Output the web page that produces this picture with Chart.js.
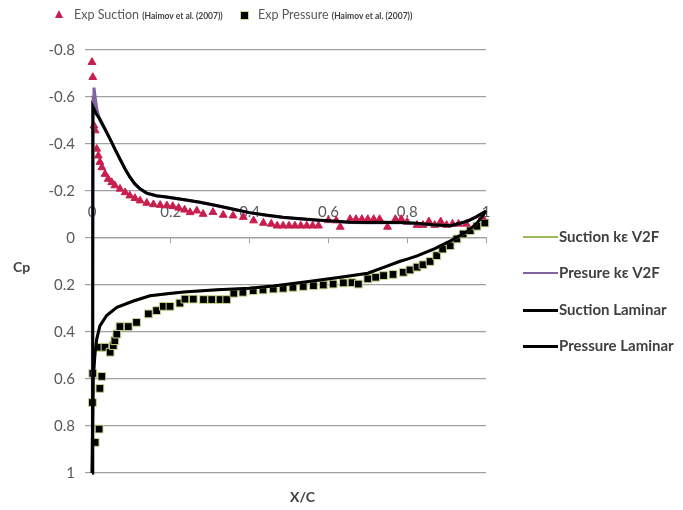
<!DOCTYPE html>
<html>
<head>
<meta charset="utf-8">
<script src="https://cdn.jsdelivr.net/npm/chart.js@4"></script>
<style>
  html, body { margin: 0; padding: 0; background: #fff; }
  #wrap { position: relative; width: 683px; height: 510px; font-family: Lato, "Open Sans", sans-serif; }
  #c { position: absolute; left: 0; top: 0; }
  .lbl { position: absolute; white-space: nowrap; }
  .top { font-size: 12.5px; color: #595959; top: 7px; }
  .small { font-size: 8.5px; font-weight: bold; color: #404040; }
  .rl { position: absolute; left: 523px; font-size: 15px; font-weight: bold; color: #404040; white-space: nowrap; line-height: 18px; }
  .rl span.ln { display: inline-block; width: 35px; height: 3px; vertical-align: middle; margin-right: 1px; position: relative; top: -1px; }
  .axt { position: absolute; font-size: 14px; font-weight: bold; color: #404040; }
</style>
</head>
<body>
<div id="wrap">
  <canvas id="c" width="683" height="510"></canvas>
  <div id="legendTop"></div>
  <div id="legendRight"></div>
  <div class="axt" style="left:13px; top:258px;">Cp</div>
  <div class="axt" style="left:290px; top:488px;">X/C</div>
</div>
<script>
// ---- data ----
const xTickValues = [0, 0.2, 0.4, 0.6, 0.8, 1];
const xTickLabels = ['0', '0.2', '0.4', '0.6', '0.8', '1'];
const yTickValues = [-0.8, -0.6, -0.4, -0.2, 0, 0.2, 0.4, 0.6, 0.8, 1];
const yTickLabels = ['-0.8', '-0.6', '-0.4', '-0.2', '0', '0.2', '0.4', '0.6', '0.8', '1'];

const expSuctionX = [0.0, 0.002, 0.005, 0.008, 0.012, 0.016, 0.02, 0.025, 0.033, 0.041, 0.05, 0.058, 0.071, 0.084, 0.096, 0.109, 0.122, 0.139, 0.156, 0.173, 0.19, 0.205, 0.22, 0.235, 0.249, 0.266, 0.282, 0.307, 0.333, 0.358, 0.384, 0.41, 0.435, 0.455, 0.47, 0.485, 0.5, 0.515, 0.53, 0.545, 0.56, 0.575, 0.6, 0.62, 0.63, 0.655, 0.67, 0.685, 0.7, 0.715, 0.73, 0.75, 0.77, 0.785, 0.8, 0.825, 0.84, 0.855, 0.87, 0.885, 0.9, 0.915, 0.93, 0.95, 0.99];
const expSuctionCp = [-0.748, -0.684, -0.478, -0.457, -0.379, -0.35, -0.323, -0.3, -0.272, -0.251, -0.237, -0.223, -0.209, -0.194, -0.18, -0.169, -0.159, -0.149, -0.143, -0.14, -0.138, -0.135, -0.128, -0.12, -0.109, -0.116, -0.102, -0.11, -0.098, -0.095, -0.089, -0.074, -0.064, -0.06, -0.052, -0.052, -0.052, -0.052, -0.052, -0.052, -0.052, -0.052, -0.075, -0.074, -0.047, -0.08, -0.08, -0.08, -0.08, -0.08, -0.08, -0.047, -0.08, -0.08, -0.068, -0.055, -0.055, -0.07, -0.055, -0.07, -0.055, -0.06, -0.06, -0.06, -0.09];

const expPressureX = [0.001, 0.008, 0.018, 0.02, 0.025, 0.002, 0.02, 0.033, 0.046, 0.054, 0.058, 0.063, 0.071, 0.092, 0.113, 0.143, 0.164, 0.181, 0.198, 0.223, 0.236, 0.257, 0.283, 0.304, 0.325, 0.342, 0.36, 0.383, 0.409, 0.434, 0.46, 0.485, 0.51, 0.536, 0.562, 0.587, 0.612, 0.638, 0.66, 0.676, 0.7, 0.72, 0.74, 0.764, 0.79, 0.807, 0.825, 0.84, 0.858, 0.875, 0.89, 0.909, 0.926, 0.942, 0.96, 0.977, 0.997];
const expPressureCp = [0.70, 0.87, 0.813, 0.64, 0.589, 0.576, 0.465, 0.465, 0.486, 0.458, 0.437, 0.409, 0.377, 0.377, 0.359, 0.323, 0.309, 0.291, 0.291, 0.277, 0.26, 0.26, 0.262, 0.262, 0.262, 0.262, 0.235, 0.231, 0.224, 0.221, 0.217, 0.214, 0.21, 0.206, 0.203, 0.2, 0.196, 0.191, 0.19, 0.196, 0.174, 0.167, 0.16, 0.155, 0.146, 0.136, 0.124, 0.114, 0.1, 0.075, 0.047, 0.033, 0.004, -0.017, -0.031, -0.05, -0.064];

const suctionV2FX = [0, 0.001, 0.003, 0.005, 0.008, 0.012, 0.02, 0.033, 0.046, 0.058, 0.071, 0.084, 0.096, 0.109, 0.122, 0.139, 0.164, 0.19, 0.232, 0.275, 0.316, 0.36, 0.4, 0.445, 0.485, 0.53, 0.57, 0.61, 0.655, 0.7, 0.74, 0.785, 0.825, 0.866, 0.91, 0.95, 0.975, 0.99, 1.0];
const suctionV2FCp = [1, 0.4, -0.6, -0.64, -0.6, -0.55, -0.5, -0.462, -0.42, -0.378, -0.335, -0.293, -0.259, -0.229, -0.208, -0.19, -0.179, -0.173, -0.163, -0.151, -0.137, -0.121, -0.107, -0.096, -0.087, -0.081, -0.076, -0.071, -0.066, -0.065, -0.066, -0.065, -0.062, -0.055, -0.051, -0.069, -0.089, -0.104, -0.114];

const pressureV2FX = [0, 0.003, 0.008, 0.012, 0.02, 0.037, 0.063, 0.105, 0.147, 0.19, 0.232, 0.317, 0.4, 0.46, 0.545, 0.63, 0.7, 0.74, 0.78, 0.8, 0.825, 0.87, 0.91, 0.95, 0.975, 0.99, 1.0];
const pressureV2FCp = [1, 0.6, 0.486, 0.431, 0.375, 0.331, 0.296, 0.269, 0.247, 0.238, 0.231, 0.221, 0.215, 0.205, 0.187, 0.168, 0.151, 0.126, 0.101, 0.091, 0.077, 0.046, 0.013, -0.024, -0.059, -0.089, -0.114];

const suctionLamX = [0, 0.002, 0.005, 0.01, 0.02, 0.033, 0.046, 0.058, 0.071, 0.084, 0.096, 0.109, 0.122, 0.139, 0.164, 0.19, 0.232, 0.275, 0.316, 0.36, 0.4, 0.445, 0.485, 0.53, 0.57, 0.61, 0.655, 0.7, 0.74, 0.785, 0.825, 0.866, 0.91, 0.95, 0.975, 0.99, 1.0];
const suctionLamCp = [1, -0.56, -0.55, -0.53, -0.506, -0.464, -0.421, -0.379, -0.336, -0.294, -0.26, -0.23, -0.209, -0.191, -0.18, -0.174, -0.164, -0.152, -0.138, -0.122, -0.108, -0.097, -0.088, -0.082, -0.077, -0.072, -0.067, -0.066, -0.067, -0.066, -0.063, -0.056, -0.052, -0.07, -0.09, -0.105, -0.115];

const pressureLamX = [0, 0.003, 0.008, 0.012, 0.02, 0.037, 0.063, 0.105, 0.147, 0.19, 0.232, 0.317, 0.4, 0.46, 0.545, 0.63, 0.7, 0.74, 0.78, 0.8, 0.825, 0.87, 0.91, 0.95, 0.975, 0.99, 1.0];
const pressureLamCp = [1, 0.6, 0.485, 0.43, 0.374, 0.33, 0.295, 0.268, 0.246, 0.237, 0.23, 0.22, 0.214, 0.204, 0.186, 0.167, 0.15, 0.125, 0.1, 0.09, 0.076, 0.045, 0.012, -0.025, -0.06, -0.09, -0.115];

const seriesNames = ['Exp Suction', 'Exp Pressure', 'Suction k\u03b5 V2F', 'Presure k\u03b5 V2F', 'Suction Laminar', 'Pressure Laminar'];
const sourceNote = '(Haimov et al. (2007))';
const colors = ['#c81e4e', '#000000', '#9bbb59', '#8064a2', '#000000', '#000000'];

function pts(xs, ys) { return xs.map((x, i) => ({ x: x, y: ys[i] })); }
function tickLabel(values, labels, v) {
  const k = values.findIndex(t => Math.abs(t - v) < 1e-6);
  return k >= 0 ? labels[k] : '';
}

// ---- legends (HTML text) ----
const lt = document.getElementById('legendTop');
lt.innerHTML =
  '<div class="lbl" style="left:55px;top:10px;width:0;height:0;border-left:4px solid transparent;border-right:4px solid transparent;border-bottom:8px solid ' + colors[0] + ';"></div>' +
  '<div class="lbl top" style="left:74px;">' + seriesNames[0] + ' <span class="small">' + sourceNote + '</span></div>' +
  '<div class="lbl" style="left:240px;top:11px;width:7px;height:7px;background:#000;border:1px solid #c5d88a;"></div>' +
  '<div class="lbl top" style="left:258px;">' + seriesNames[1] + ' <span class="small">' + sourceNote + '</span></div>';

const lr = document.getElementById('legendRight');
const rTops = [227, 263, 300, 336];
lr.innerHTML = [2, 3, 4, 5].map((k, i) =>
  '<div class="rl" style="top:' + rTops[i] + 'px;"><span class="ln" style="background:' + colors[k] + ';height:' + (k >= 4 ? 3 : 2) + 'px"></span>' + seriesNames[k] + '</div>'
).join('');

// ---- chart ----
const lineDs = (label, data, color, width, order) => ({
  label, data, showLine: true, borderColor: color, backgroundColor: color,
  borderWidth: width, pointRadius: 0, tension: 0, order, clip: false
});

new Chart(document.getElementById('c'), {
  type: 'scatter',
  data: {
    datasets: [
      lineDs(seriesNames[4], pts(suctionLamX, suctionLamCp), colors[4], 3, 0),
      lineDs(seriesNames[5], pts(pressureLamX, pressureLamCp), colors[5], 3, 1),
      lineDs(seriesNames[3], pts(suctionV2FX, suctionV2FCp), colors[3], 3, 2),
      lineDs(seriesNames[2], pts(pressureV2FX, pressureV2FCp), colors[2], 2.5, 3),
      {
        label: seriesNames[0], data: pts(expSuctionX, expSuctionCp), order: 4, clip: false,
        pointStyle: 'triangle', pointRadius: 4.5, backgroundColor: colors[0], borderColor: colors[0], borderWidth: 1
      },
      {
        label: seriesNames[1], data: pts(expPressureX, expPressureCp), order: 5, clip: false,
        pointStyle: 'rect', pointRadius: 5.5, backgroundColor: colors[1], borderColor: '#c5d88a', borderWidth: 1
      }
    ]
  },
  options: {
    responsive: false,
    animation: false,
    layout: { padding: { left: 0, top: 50, right: 197, bottom: 37 } },
    plugins: { legend: { display: false }, tooltip: { enabled: false } },
    scales: {
      x: {
        type: 'linear', min: 0, max: 1,
        position: { y: 0 },
        grid: { drawOnChartArea: false, drawTicks: true, tickLength: 5, color: '#a0a0a0' },
        border: { display: true, color: '#a0a0a0', width: 1.2 },
        ticks: {
          stepSize: 0.2, padding: -40, color: '#595959',
          font: { family: 'Lato', size: 15 },
          callback: (v) => tickLabel(xTickValues, xTickLabels, v)
        }
      },
      y: {
        type: 'linear', min: -0.8, max: 1, reverse: true, position: 'left',
        afterFit: (s) => { s.width = 92; },
        grid: { color: '#a0a0a0', lineWidth: 1.2, tickLength: 7, drawTicks: true },
        border: { display: false },
        ticks: {
          stepSize: 0.2, padding: 10, color: '#595959',
          font: { family: 'Lato', size: 15 },
          callback: (v) => tickLabel(yTickValues, yTickLabels, v)
        }
      }
    }
  }
});
</script>
</body>
</html>
